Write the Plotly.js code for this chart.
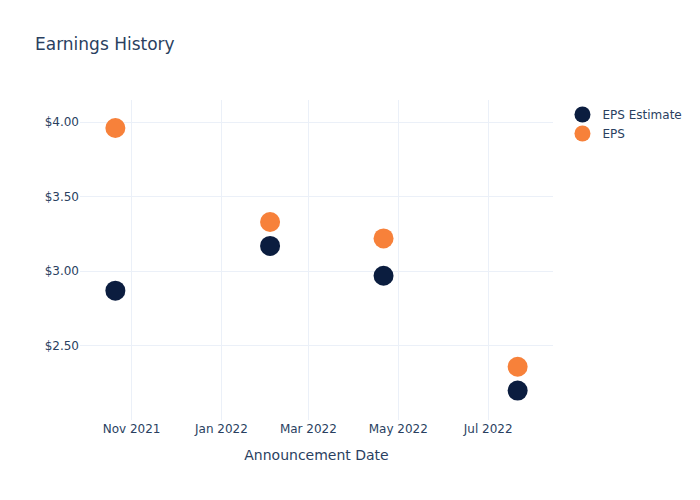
<!DOCTYPE html>
<html>
<head>
<meta charset="utf-8">
<script src="https://cdn.plot.ly/plotly-3.0.1.min.js"></script>
<style>html,body{margin:0;padding:0;background:#fff;}#chart{width:700px;height:500px;}</style>
</head>
<body>
<div id="chart"></div>
<script>
const dates = ["2021-10-21", "2022-02-03", "2022-04-21", "2022-07-21"];
const epsEstimate = [2.87, 3.17, 2.97, 2.20];
const epsActual = [3.96, 3.33, 3.22, 2.36];
const seriesNames = ["EPS Estimate", "EPS"];
const xTitle = "Announcement Date";
const chartTitle = "Earnings History";

const traces = [
  {x: dates, y: epsEstimate, name: seriesNames[0], type: "scatter", mode: "markers",
   marker: {size: 20, color: "#0b1d3f"}},
  {x: dates, y: epsActual, name: seriesNames[1], type: "scatter", mode: "markers",
   marker: {size: 20, color: "#f7813a"}}
];

const layout = {
  width: 700, height: 500,
  paper_bgcolor: "#fff", plot_bgcolor: "#fff",
  font: {family: "'DejaVu Sans', verdana, arial, sans-serif", size: 12, color: "#2a3f5f"},
  title: {text: chartTitle, x: 0.05, xanchor: "left", font: {size: 17, color: "#2a3f5f"}},
  margin: {l: 80, r: 147, t: 100, b: 80},
  xaxis: {title: {text: xTitle, font: {size: 14}, standoff: 15}, type: "date",
          range: ["2021-09-27", "2022-08-14"],
          gridcolor: "#EBF0F8", showline: false, zeroline: false,
          tickformat: "%b %Y", dtick: "M2", tick0: "2021-11-01", ticks: ""},
  yaxis: {tickprefix: "$", tickformat: ".2f", range: [2.003, 4.148], dtick: 0.5,
          gridcolor: "#EBF0F8", showline: false, zeroline: false, ticks: ""},
  legend: {x: 1.02, y: 1, xanchor: "left", yanchor: "top", font: {size: 12}},
  showlegend: true
};

Plotly.newPlot("chart", traces, layout, {displayModeBar: false});
</script>
</body>
</html>
